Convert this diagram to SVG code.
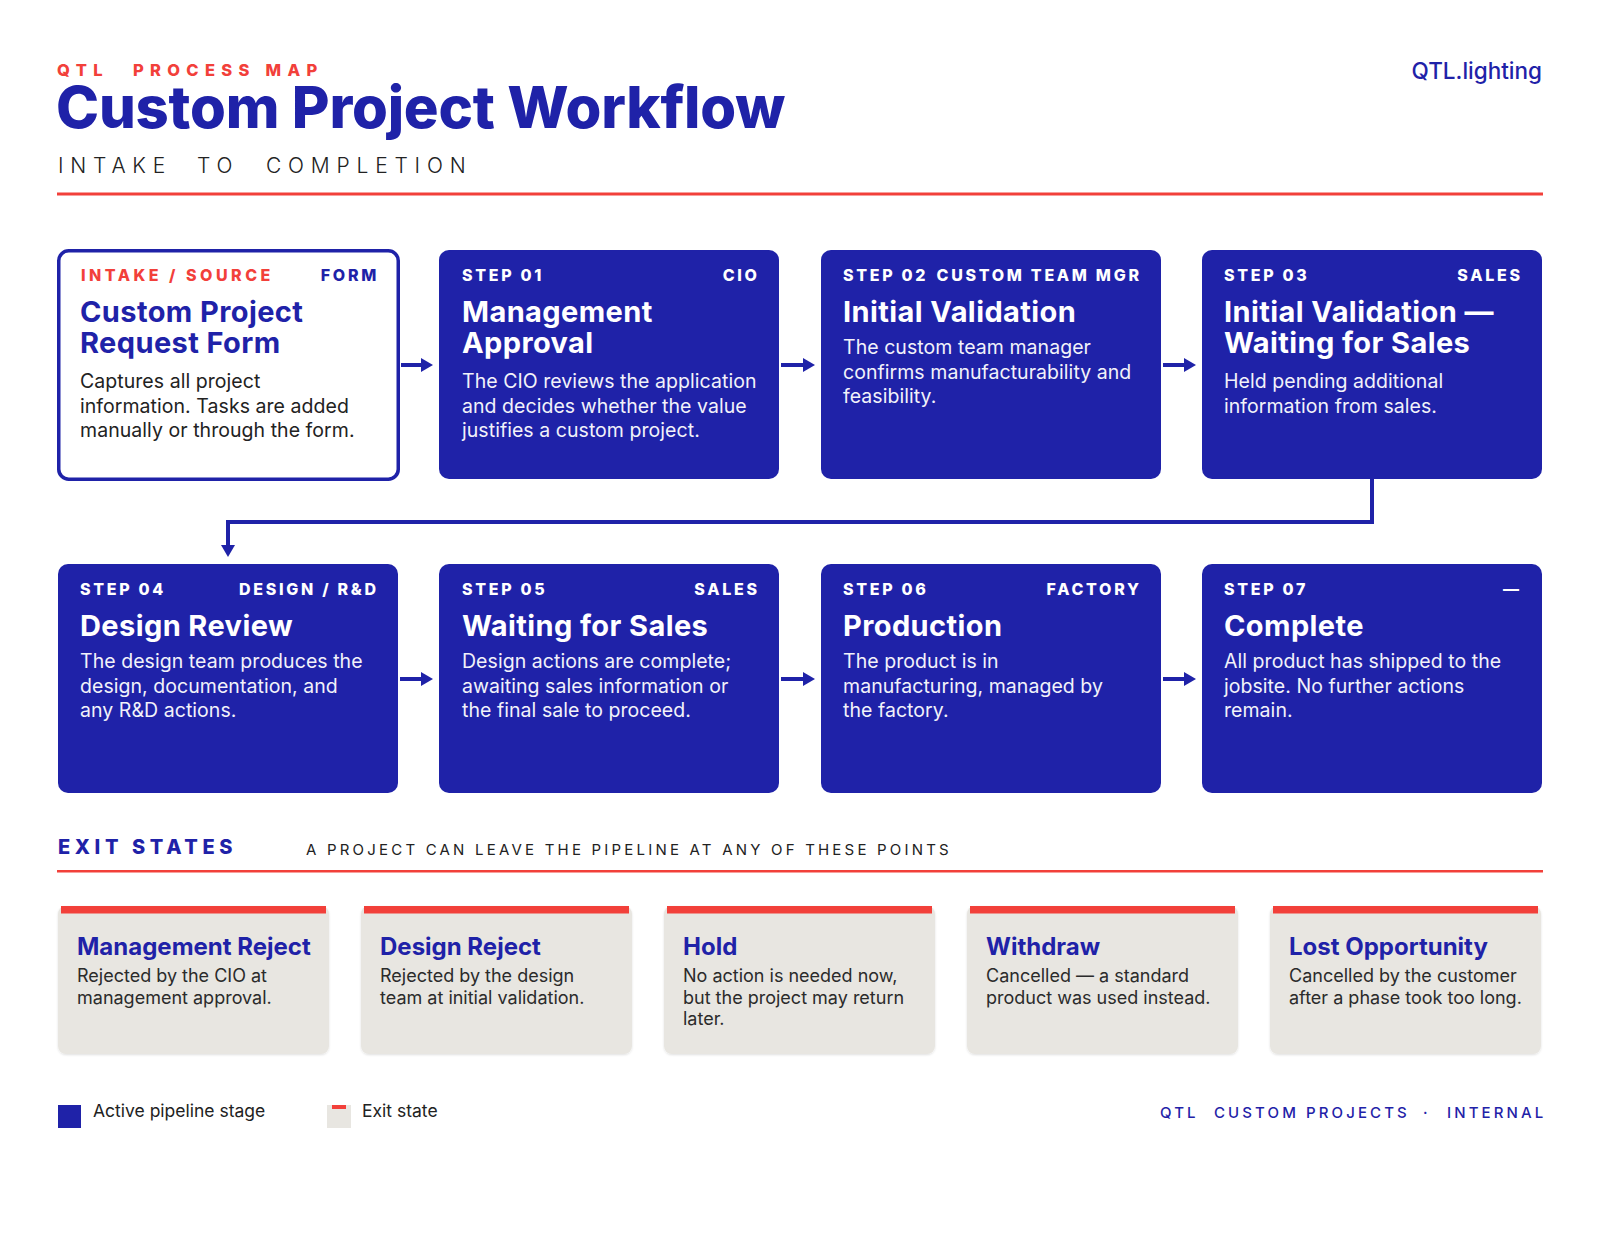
<svg xmlns="http://www.w3.org/2000/svg" width="1600" height="1236" viewBox="0 0 1600 1236">
<defs>
<style>
.stage{fill:#1F22A8}
.lbl{font-family:Inter,"Liberation Sans",sans-serif;font-weight:800;font-size:16px;letter-spacing:2.7px;fill:#fff}
.end{text-anchor:end}
.ttl{font-family:Inter,"Liberation Sans",sans-serif;font-weight:700;font-size:29px;letter-spacing:0.4px;fill:#fff}
.body{font-family:Inter,"Liberation Sans",sans-serif;font-weight:400;font-size:19.5px;letter-spacing:0.05px;fill:#F2F2FA}
.card{fill:#E8E6E1}
.bar{fill:#F2403A}
.xttl{font-family:Inter,"Liberation Sans",sans-serif;font-weight:700;font-size:24px;letter-spacing:0px;fill:#1F22A8}
.xbody{font-family:Inter,"Liberation Sans",sans-serif;font-weight:400;font-size:18px;letter-spacing:0px;fill:#2B2B2B}
.conn{fill:none;stroke:#1F22A8;stroke-width:4}
</style>
<marker id="ah" markerUnits="userSpaceOnUse" viewBox="0 0 12 14" markerWidth="12" markerHeight="14" refX="6" refY="7" orient="auto">
<path d="M0,0 L12,7 L0,14 Z" fill="#1F22A8"/>
</marker>
<filter id="sh" x="-5%" y="-5%" width="110%" height="115%">
<feDropShadow dx="0" dy="1" stdDeviation="1.2" flood-color="#000" flood-opacity="0.12"/>
</filter>
</defs>
<rect width="1600" height="1236" fill="#fff"/>

<g id="header">
<text y="76" font-family="Inter,'Liberation Sans',sans-serif" font-weight="800" font-size="16.5" letter-spacing="6.3" fill="#F2403A"><tspan x="57">QTL</tspan><tspan x="133">PROCESS MAP</tspan></text>
<text x="56" y="128" font-family="Inter,'Liberation Sans',sans-serif" font-weight="800" font-size="58" letter-spacing="-0.2" fill="#1F22A8">Custom Project Workflow</text>
<text y="173" font-family="Inter,'Liberation Sans',sans-serif" font-weight="300" font-size="21" letter-spacing="6.8" fill="#222"><tspan x="58">INTAKE</tspan><tspan x="197">TO</tspan><tspan x="266">COMPLETION</tspan></text>
<text x="1542" y="79" text-anchor="end" font-family="Inter,'Liberation Sans',sans-serif" font-weight="500" font-size="22.5" fill="#1F22A8">QTL.lighting</text>
<rect x="57" y="192.5" width="1486" height="3" fill="#F2403A"/>
</g>

<g id="connectors">
<line class="conn" x1="401" y1="365" x2="427" y2="365" marker-end="url(#ah)"/>
<line class="conn" x1="781" y1="365" x2="809" y2="365" marker-end="url(#ah)"/>
<line class="conn" x1="1163" y1="365" x2="1190" y2="365" marker-end="url(#ah)"/>
<path class="conn" d="M1372,479 V522 H228 V551" marker-end="url(#ah)"/>
<line class="conn" x1="400" y1="679" x2="427" y2="679" marker-end="url(#ah)"/>
<line class="conn" x1="781" y1="679" x2="809" y2="679" marker-end="url(#ah)"/>
<line class="conn" x1="1163" y1="679" x2="1190" y2="679" marker-end="url(#ah)"/>
</g>

<g id="intake">
<rect x="58.75" y="250.75" width="339.5" height="228.5" rx="10" fill="#fff" stroke="#1F22A8" stroke-width="3.5"/>
<text x="81" y="281" class="lbl" style="fill:#F2403A;letter-spacing:3.5px">INTAKE / SOURCE</text>
<text x="379" y="281" class="lbl end" style="fill:#1F22A8">FORM</text>
<text x="80" y="322" class="ttl" style="fill:#1F22A8">Custom Project</text>
<text x="80" y="353" class="ttl" style="fill:#1F22A8">Request Form</text>
<text class="body" style="fill:#222"><tspan x="80" y="388">Captures all project</tspan><tspan x="80" y="412.5">information. Tasks are added</tspan><tspan x="80" y="437">manually or through the form.</tspan></text>
</g>

<g id="step01">
<rect x="439" y="250" width="340" height="229" rx="10" class="stage"/>
<text x="462" y="281" class="lbl">STEP 01</text>
<text x="759.7" y="281" class="lbl end">CIO</text>
<text x="462" y="322" class="ttl">Management</text>
<text x="462" y="353" class="ttl">Approval</text>
<text class="body"><tspan x="462" y="388">The CIO reviews the application</tspan><tspan x="462" y="412.5">and decides whether the value</tspan><tspan x="462" y="437">justifies a custom project.</tspan></text>
</g>

<g id="step02">
<rect x="821" y="250" width="340" height="229" rx="10" class="stage"/>
<text x="843" y="281" class="lbl">STEP 02</text>
<text x="1141.7" y="281" class="lbl end">CUSTOM TEAM MGR</text>
<text x="843" y="322" class="ttl">Initial Validation</text>
<text class="body"><tspan x="843" y="354">The custom team manager</tspan><tspan x="843" y="378.5">confirms manufacturability and</tspan><tspan x="843" y="403">feasibility.</tspan></text>
</g>

<g id="step03">
<rect x="1202" y="250" width="340" height="229" rx="10" class="stage"/>
<text x="1224" y="281" class="lbl">STEP 03</text>
<text x="1522.7" y="281" class="lbl end">SALES</text>
<text x="1224" y="322" class="ttl">Initial Validation —</text>
<text x="1224" y="353" class="ttl">Waiting for Sales</text>
<text class="body"><tspan x="1224" y="388">Held pending additional</tspan><tspan x="1224" y="412.5">information from sales.</tspan></text>
</g>

<g id="step04">
<rect x="58" y="564" width="340" height="229" rx="10" class="stage"/>
<text x="80" y="595" class="lbl">STEP 04</text>
<text x="378.7" y="595" class="lbl end">DESIGN / R&amp;D</text>
<text x="80" y="636" class="ttl">Design Review</text>
<text class="body"><tspan x="80" y="668">The design team produces the</tspan><tspan x="80" y="692.5">design, documentation, and</tspan><tspan x="80" y="717">any R&amp;D actions.</tspan></text>
</g>

<g id="step05">
<rect x="439" y="564" width="340" height="229" rx="10" class="stage"/>
<text x="462" y="595" class="lbl">STEP 05</text>
<text x="759.7" y="595" class="lbl end">SALES</text>
<text x="462" y="636" class="ttl">Waiting for Sales</text>
<text class="body"><tspan x="462" y="668">Design actions are complete;</tspan><tspan x="462" y="692.5">awaiting sales information or</tspan><tspan x="462" y="717">the final sale to proceed.</tspan></text>
</g>

<g id="step06">
<rect x="821" y="564" width="340" height="229" rx="10" class="stage"/>
<text x="843" y="595" class="lbl">STEP 06</text>
<text x="1141.7" y="595" class="lbl end">FACTORY</text>
<text x="843" y="636" class="ttl">Production</text>
<text class="body"><tspan x="843" y="668">The product is in</tspan><tspan x="843" y="692.5">manufacturing, managed by</tspan><tspan x="843" y="717">the factory.</tspan></text>
</g>

<g id="step07">
<rect x="1202" y="564" width="340" height="229" rx="10" class="stage"/>
<text x="1224" y="595" class="lbl">STEP 07</text>
<text x="1521.7" y="595" class="lbl end">—</text>
<text x="1224" y="636" class="ttl">Complete</text>
<text class="body"><tspan x="1224" y="668">All product has shipped to the</tspan><tspan x="1224" y="692.5">jobsite. No further actions</tspan><tspan x="1224" y="717">remain.</tspan></text>
</g>

<g id="exit-header">
<text x="58" y="854" font-family="Inter,'Liberation Sans',sans-serif" font-weight="800" font-size="20" letter-spacing="4.6" fill="#1F22A8">EXIT STATES</text>
<text x="306" y="855" font-family="Inter,'Liberation Sans',sans-serif" font-weight="400" font-size="15" letter-spacing="3.2" fill="#222">A PROJECT CAN LEAVE THE PIPELINE AT ANY OF THESE POINTS</text>
<rect x="57" y="870" width="1486" height="2.5" fill="#F2403A"/>
</g>

<g id="exit-management-reject">
<rect x="58" y="906" width="271" height="148" rx="8" class="card" filter="url(#sh)"/>
<rect x="61" y="906" width="265" height="7.5" class="bar"/>
<text x="77" y="955" class="xttl">Management Reject</text>
<text class="xbody"><tspan x="77" y="982">Rejected by the CIO at</tspan><tspan x="77" y="1003.5">management approval.</tspan></text>
</g>

<g id="exit-design-reject">
<rect x="361" y="906" width="271" height="148" rx="8" class="card" filter="url(#sh)"/>
<rect x="364" y="906" width="265" height="7.5" class="bar"/>
<text x="380" y="955" class="xttl">Design Reject</text>
<text class="xbody"><tspan x="380" y="982">Rejected by the design</tspan><tspan x="380" y="1003.5">team at initial validation.</tspan></text>
</g>

<g id="exit-hold">
<rect x="664" y="906" width="271" height="148" rx="8" class="card" filter="url(#sh)"/>
<rect x="667" y="906" width="265" height="7.5" class="bar"/>
<text x="683" y="955" class="xttl">Hold</text>
<text class="xbody"><tspan x="683" y="982">No action is needed now,</tspan><tspan x="683" y="1003.5">but the project may return</tspan><tspan x="683" y="1025">later.</tspan></text>
</g>

<g id="exit-withdraw">
<rect x="967" y="906" width="271" height="148" rx="8" class="card" filter="url(#sh)"/>
<rect x="970" y="906" width="265" height="7.5" class="bar"/>
<text x="986" y="955" class="xttl">Withdraw</text>
<text class="xbody"><tspan x="986" y="982">Cancelled — a standard</tspan><tspan x="986" y="1003.5">product was used instead.</tspan></text>
</g>

<g id="exit-lost-opportunity">
<rect x="1270" y="906" width="271" height="148" rx="8" class="card" filter="url(#sh)"/>
<rect x="1273" y="906" width="265" height="7.5" class="bar"/>
<text x="1289" y="955" class="xttl">Lost Opportunity</text>
<text class="xbody"><tspan x="1289" y="982">Cancelled by the customer</tspan><tspan x="1289" y="1003.5">after a phase took too long.</tspan></text>
</g>

<g id="legend">
<rect x="58" y="1105" width="23" height="23" fill="#1F22A8"/>
<text x="93" y="1117" font-family="Inter,'Liberation Sans',sans-serif" font-size="17.5" fill="#222">Active pipeline stage</text>
<rect x="327" y="1105" width="24" height="23" fill="#E8E6E1"/>
<rect x="332" y="1105" width="14" height="4" fill="#F2403A"/>
<text x="362" y="1117" font-family="Inter,'Liberation Sans',sans-serif" font-size="17.5" fill="#222">Exit state</text>
</g>

<g id="footer">
<text y="1118" font-family="Inter,'Liberation Sans',sans-serif" font-weight="500" font-size="15" letter-spacing="3.1" fill="#1F22A8"><tspan x="1160">QTL</tspan><tspan x="1214">CUSTOM PROJECTS</tspan><tspan x="1423">·</tspan><tspan x="1447">INTERNAL</tspan></text>
</g>
</svg>
